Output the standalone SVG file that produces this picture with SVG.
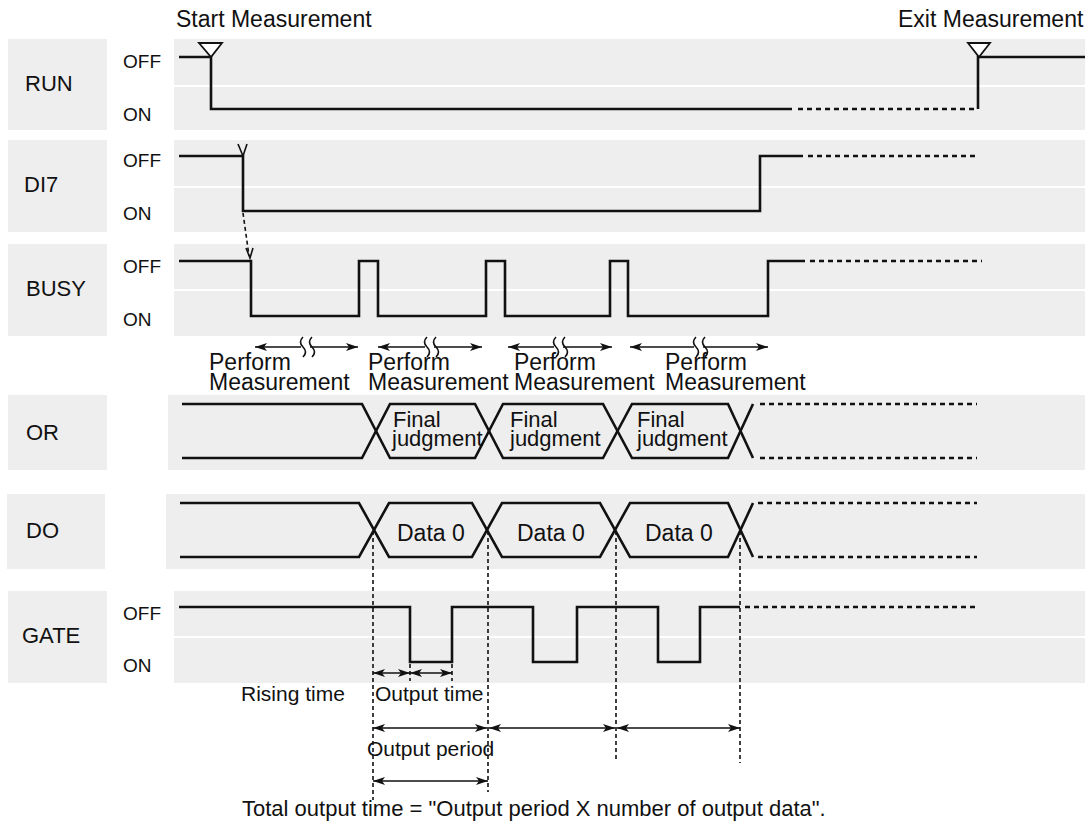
<svg xmlns="http://www.w3.org/2000/svg" width="1085" height="827" viewBox="0 0 1085 827">
<style>
text{font-family:"Liberation Sans",Arial,sans-serif;fill:#111}
.lab{font-size:22px}
.lvl{font-size:19px}
.big{font-size:23px}
.fj{font-size:22px}
.mid{font-size:21px}
.note{font-size:22px}
.bg{fill:#eeeeee}
.sig{fill:none;stroke:#111;stroke-width:2.6;stroke-linejoin:miter}
.dot{fill:none;stroke:#111;stroke-width:2.6;stroke-dasharray:5 4}
.vref{fill:none;stroke:#111;stroke-width:1.6;stroke-dasharray:4 3}
.dim{fill:none;stroke:#111;stroke-width:1.6}
.tri{fill:#fff;stroke:#111;stroke-width:1.8}
</style>
<defs>
<marker id="ah" viewBox="0 0 12 8" refX="12" refY="4" markerWidth="12" markerHeight="8" markerUnits="userSpaceOnUse" orient="auto-start-reverse">
<path d="M0,0 L12,4 L0,8 L3,4 z" fill="#111"/>
</marker>
</defs>
<rect width="1085" height="827" fill="#fff"/>

<text class="big" x="176" y="27">Start Measurement</text>
<text class="big" x="898" y="27">Exit Measurement</text>

<g id="run">
<rect class="bg" x="8" y="39" width="99" height="91"/>
<rect class="bg" x="174" y="39" width="911" height="46"/>
<rect class="bg" x="174" y="87" width="911" height="43"/>
<text class="lab" x="25" y="91">RUN</text>
<text class="lvl" x="123" y="68">OFF</text>
<text class="lvl" x="123" y="121">ON</text>
<polyline class="sig" points="179,57 211,57 211,109 792,109"/>
<line class="dot" x1="798" y1="109" x2="976" y2="109"/>
<polyline class="sig" points="978,109 978,57 1085,57"/>
<polygon class="tri" points="199,43 222,43 211,57"/>
<polygon class="tri" points="968,43 990,43 979,57"/>
</g>

<g id="di7">
<rect class="bg" x="8" y="140" width="99" height="92"/>
<rect class="bg" x="174" y="140" width="911" height="46"/>
<rect class="bg" x="174" y="188" width="911" height="44"/>
<text class="lab" x="24" y="192">DI7</text>
<text class="lvl" x="123" y="167">OFF</text>
<text class="lvl" x="123" y="220">ON</text>
<polyline class="sig" points="179,156 243,156 243,211 760,211 760,156 803,156"/>
<line class="dot" x1="808" y1="156" x2="979" y2="156"/>
<polyline class="dim" points="238,144 243,156 247,144"/>
</g>

<g id="busy">
<rect class="bg" x="8" y="244" width="99" height="92"/>
<rect class="bg" x="174" y="244" width="911" height="45"/>
<rect class="bg" x="174" y="291" width="911" height="45"/>
<text class="lab" x="26" y="296">BUSY</text>
<text class="lvl" x="123" y="273">OFF</text>
<text class="lvl" x="123" y="326">ON</text>
<polyline class="sig" points="179,261 251,261 251,316 359,316 359,261 378,261 378,316 486,316 486,261 505,261 505,316 610,316 610,261 628,261 628,316 768,316 768,261 805,261"/>
<line class="dot" x1="810" y1="261" x2="982" y2="261"/>
</g>

<g id="perform">
<line class="dim" x1="255" y1="347" x2="301" y2="347" marker-start="url(#ah)"/>
<line class="dim" x1="310" y1="347" x2="358" y2="347" marker-end="url(#ah)"/>
<path class="dim" d="M303,337 q-5,5 0,10 q5,5 0,10 M312,337 q-5,5 0,10 q5,5 0,10"/>
<line class="dim" x1="378" y1="347" x2="425" y2="347" marker-start="url(#ah)"/>
<line class="dim" x1="434" y1="347" x2="482" y2="347" marker-end="url(#ah)"/>
<path class="dim" d="M427,337 q-5,5 0,10 q5,5 0,10 M436,337 q-5,5 0,10 q5,5 0,10"/>
<line class="dim" x1="508" y1="347" x2="554" y2="347" marker-start="url(#ah)"/>
<line class="dim" x1="563" y1="347" x2="612" y2="347" marker-end="url(#ah)"/>
<path class="dim" d="M556,337 q-5,5 0,10 q5,5 0,10 M565,337 q-5,5 0,10 q5,5 0,10"/>
<line class="dim" x1="630" y1="347" x2="694" y2="347" marker-start="url(#ah)"/>
<line class="dim" x1="703" y1="347" x2="768" y2="347" marker-end="url(#ah)"/>
<path class="dim" d="M696,337 q-5,5 0,10 q5,5 0,10 M705,337 q-5,5 0,10 q5,5 0,10"/>
<text class="big" x="209" y="370">Perform</text>
<text class="big" x="209" y="390">Measurement</text>
<text class="big" x="368" y="370">Perform</text>
<text class="big" x="368" y="390">Measurement</text>
<text class="big" x="514" y="370">Perform</text>
<text class="big" x="514" y="390">Measurement</text>
<text class="big" x="665" y="370">Perform</text>
<text class="big" x="665" y="390">Measurement</text>
</g>

<g id="or">
<rect class="bg" x="8" y="395" width="99" height="75"/>
<rect class="bg" x="168" y="395" width="917" height="75"/>
<text class="lab" x="26" y="440">OR</text>
<polyline class="sig" points="182,404 362,404 390,458 475,458 503,404 603,404 632,458 728,458 753,404"/>
<polyline class="sig" points="182,458 362,458 390,404 475,404 503,458 603,458 632,404 728,404 753,458"/>
<line class="dot" x1="760" y1="404" x2="977" y2="404"/>
<line class="dot" x1="760" y1="458" x2="977" y2="458"/>
<text class="fj" x="393" y="427">Final</text>
<text class="fj" x="392" y="446">judgment</text>
<text class="fj" x="510" y="427">Final</text>
<text class="fj" x="510" y="446">judgment</text>
<text class="fj" x="637" y="427">Final</text>
<text class="fj" x="637" y="446">judgment</text>
</g>

<g id="do">
<rect class="bg" x="7" y="494" width="98" height="75"/>
<rect class="bg" x="166" y="494" width="919" height="75"/>
<text class="lab" x="26" y="538">DO</text>
<polyline class="sig" points="180,503 359,503 389,557 472,557 502,503 600,503 630,557 728,557 753,503"/>
<polyline class="sig" points="180,557 359,557 389,503 472,503 502,557 600,557 630,503 728,503 753,557"/>
<line class="dot" x1="758" y1="503" x2="977" y2="503"/>
<line class="dot" x1="758" y1="557" x2="977" y2="557"/>
<text class="big" x="397" y="541">Data 0</text>
<text class="big" x="517" y="541">Data 0</text>
<text class="big" x="645" y="541">Data 0</text>
</g>

<g id="gate">
<rect class="bg" x="8" y="591" width="99" height="92"/>
<rect class="bg" x="174" y="591" width="911" height="45"/>
<rect class="bg" x="174" y="638" width="911" height="45"/>
<text class="lab" x="22" y="643">GATE</text>
<text class="lvl" x="123" y="620">OFF</text>
<text class="lvl" x="123" y="672">ON</text>
<polyline class="sig" points="179,607 410,607 410,662 452,662 452,607 533,607 533,662 577,662 577,607 658,607 658,662 700,662 700,607 740,607"/>
<line class="dot" x1="745" y1="607" x2="977" y2="607"/>
</g>

<g id="connectors">
<line class="vref" x1="243" y1="213" x2="249" y2="256" stroke-dasharray="3 2"/>
<polyline class="dim" points="246,248 250,258 253,248"/>
<line class="vref" x1="373" y1="531" x2="373" y2="800"/>
<line class="vref" x1="488" y1="531" x2="488" y2="792"/>
<line class="vref" x1="616" y1="531" x2="616" y2="762"/>
<line class="vref" x1="740" y1="531" x2="740" y2="763"/>
<line class="vref" x1="410" y1="664" x2="410" y2="681"/>
<line class="vref" x1="452" y1="664" x2="452" y2="681"/>
<line class="dim" x1="373" y1="673" x2="410" y2="673" marker-start="url(#ah)" marker-end="url(#ah)"/>
<line class="dim" x1="410" y1="673" x2="452" y2="673" marker-start="url(#ah)" marker-end="url(#ah)"/>
<line class="dim" x1="373" y1="728" x2="487" y2="728" marker-start="url(#ah)" marker-end="url(#ah)"/>
<line class="dim" x1="489" y1="728" x2="615" y2="728" marker-start="url(#ah)" marker-end="url(#ah)"/>
<line class="dim" x1="617" y1="728" x2="740" y2="728" marker-start="url(#ah)" marker-end="url(#ah)"/>
<line class="dim" x1="373" y1="781" x2="488" y2="781" marker-start="url(#ah)" marker-end="url(#ah)"/>
</g>

<text class="mid" x="241" y="701">Rising time</text>
<text class="mid" x="375" y="701">Output time</text>
<text class="mid" x="367" y="756">Output period</text>
<text class="note" x="242" y="816">Total output time = "Output period X number of output data".</text>
</svg>
